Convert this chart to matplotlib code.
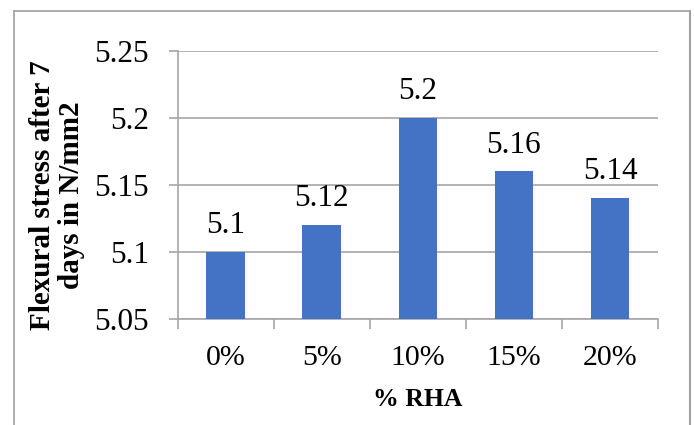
import matplotlib
matplotlib.use("Agg")
import matplotlib.pyplot as plt
from matplotlib.lines import Line2D

categories = ["0%", "5%", "10%", "15%", "20%"]
values = [5.1, 5.12, 5.2, 5.16, 5.14]
yticks = [5.05, 5.1, 5.15, 5.2, 5.25]
ytick_labels = ["5.05", "5.1", "5.15", "5.2", "5.25"]
bar_labels = ["5.1", "5.12", "5.2", "5.16", "5.14"]

plt.rcParams['font.family'] = ['Liberation Serif', 'DejaVu Serif']

W, H = 694, 425
fig = plt.figure(figsize=(W / 100, H / 100), dpi=100)
L, R, T, B = 177.5, 658, 51, 318.5
ax = fig.add_axes([L / W, 1 - B / H, (R - L) / W, (B - T) / H])

grid_c = "#A6A6A6"
x = list(range(len(categories)))
ax.bar(x, values, width=0.4, color="#4472C4", zorder=3)
ax.set_ylim(5.05, 5.25)
ax.set_xlim(-0.5, len(categories) - 0.5)
ax.set_yticks(yticks)
ax.set_yticklabels(ytick_labels, fontsize=22.5)
ax.yaxis.grid(True, color=grid_c, linewidth=1.2, zorder=0)
ax.set_xticks(x)
ax.set_xticklabels(categories, fontsize=21.5)
ax.tick_params(axis='x', length=0, pad=19)
ax.tick_params(axis='y', length=6.5, color=grid_c, width=1.2, pad=14)
ax.set_xticks([i - 0.5 for i in range(len(categories) + 1)], minor=True)
ax.tick_params(axis='x', which='minor', length=7, color=grid_c, width=1.2)
for s in ['top', 'right']:
    ax.spines[s].set_visible(False)
for s in ['left', 'bottom']:
    ax.spines[s].set_color(grid_c)
    ax.spines[s].set_linewidth(1.2)

for xi, v, lab in zip(x, values, bar_labels):
    ax.annotate(lab, (xi, v), xytext=(0, 8.5), textcoords='offset points',
                ha='center', va='bottom', fontsize=22.5)

ax.set_ylabel("Flexural stress after 7\ndays in N/mm2", fontsize=21, fontweight='bold',
              linespacing=1.05)
ax.yaxis.set_label_coords((57 - L) / (R - L), (B - 195) / (B - T))
ax.set_xlabel("% RHA", fontsize=18.5, fontweight='bold')
ax.xaxis.set_label_coords(0.5, (B - 399) / (B - T))
ax.xaxis.label.set_va('center')
ax.yaxis.label.set_va('center')

bc = "#A0A0A0"
fig.add_artist(Line2D([14 / W, 14 / W], [1 - 11 / H, 0], transform=fig.transFigure, color=bc, lw=1.2))
fig.add_artist(Line2D([14 / W, 690 / W], [1 - 11 / H, 1 - 11 / H], transform=fig.transFigure, color=bc, lw=1.2))
fig.add_artist(Line2D([690 / W, 690 / W], [1 - 11 / H, 0], transform=fig.transFigure, color=bc, lw=1.5))

fig.savefig("out.png", dpi=100)
